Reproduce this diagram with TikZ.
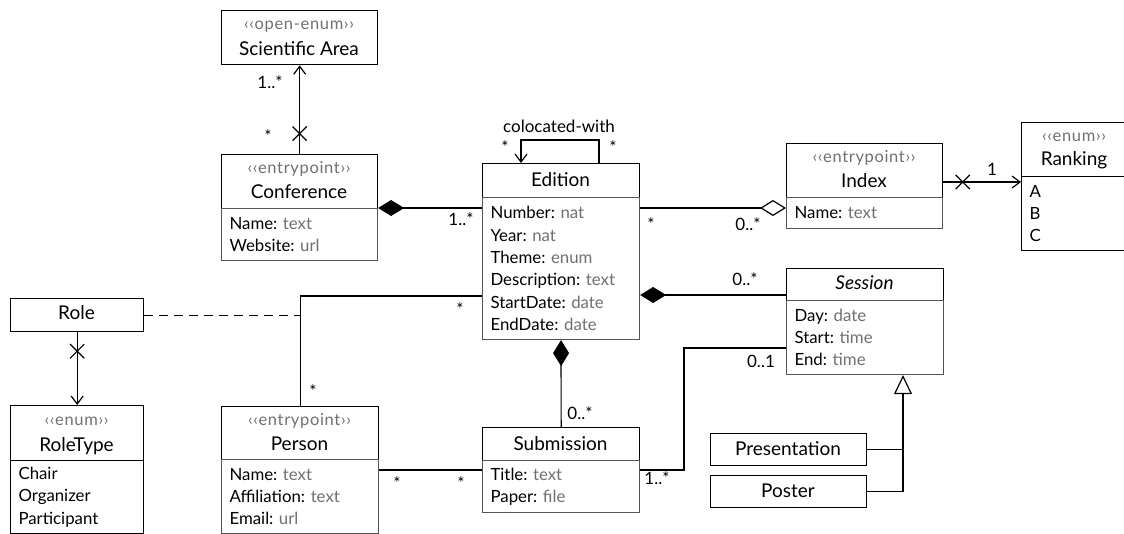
\documentclass[tikz,border=0pt]{standalone}
\usepackage{fontspec}
\setmainfont{Lato}
\newfontfamily\stereofont{Lato}[LetterSpace=4]
\usetikzlibrary{arrows.meta,shapes.misc}
\definecolor{typegray}{HTML}{707070}
\definecolor{boxgray}{HTML}{555555}
\newcommand{\attype}[1]{{\color{typegray}#1}}
\begin{document}
\frenchspacing
\begin{tikzpicture}[x=1pt,y=-1pt,
  hdr/.style={draw=black, line width=1.3pt, inner sep=0pt, anchor=north west},
  attr/.style={draw=boxgray, line width=1.1pt, inner xsep=8pt, inner ysep=0pt, anchor=north west, align=left, font=\fontsize{16.8}{22.3}\selectfont},
  ttl/.style={inner sep=0pt, anchor=base, font=\fontsize{19}{22}\selectfont},
  stereo/.style={inner sep=0pt, anchor=base, text=typegray, font=\stereofont\fontsize{16.5}{18}\selectfont},
  conn/.style={draw=black, line width=1.2pt},
  mult/.style={inner sep=0pt, font=\fontsize{17}{20}\selectfont},
  comp/.style={{Diamond[length=26pt,width=16pt]}-},
  aggr/.style={-{Diamond[open,length=26pt,width=16pt]}},
  nav/.style={-{Straight Barb[length=8pt,width=12pt]}},
  xmark/.style={cross out, draw=black, line width=1.2pt, minimum size=13pt, inner sep=0pt},
  gen/.style={-{Triangle[open,length=19pt,width=18pt]}},
  assocdash/.style={dash pattern=on 9pt off 6pt}
]
\useasboundingbox (0,0) rectangle (1124,534);
\fill[white] (0,0) rectangle (1124,534);
\clip (0,0) rectangle (1124,534);

% Scientific Area
\node[hdr, minimum width=156pt, minimum height=54pt] (sci) at (221,10) {};
\node[stereo] (sciS) at (299,30) {‹‹open-enum››};
\node[ttl] (sciT) at (299,55.5) {Scientific Area};

% Conference
\node[hdr, minimum width=156pt, minimum height=54pt] (conf) at (221,154) {};
\node[stereo] (confS) at (299,173.5) {‹‹entrypoint››};
\node[ttl] (confT) at (299,199) {Conference};
\node[attr, minimum height=52pt, text width=140pt] (confA) at (221,208) {Name: \attype{text}\\Website: \attype{url}};

% Edition
\node[hdr, minimum width=157pt, minimum height=34pt] (ed) at (482,163) {};
\node[ttl] (edT) at (560.5,187) {Edition};
\node[attr, minimum height=142pt, text width=141pt] (edA) at (482,197) {Number: \attype{nat}\\Year: \attype{nat}\\Theme: \attype{enum}\\Description: \attype{text}\\StartDate: \attype{date}\\EndDate: \attype{date}};

% Index
\node[hdr, minimum width=156pt, minimum height=54pt] (idx) at (786,143) {};
\node[stereo] (idxS) at (864,162.5) {‹‹entrypoint››};
\node[ttl] (idxT) at (864,188) {Index};
\node[attr, minimum height=31pt, text width=140pt] (idxA) at (786,197) {Name: \attype{text}};

% Ranking
\node[hdr, minimum width=106pt, minimum height=54pt] (rk) at (1021,122) {};
\node[stereo] (rkS) at (1074,141.5) {‹‹enum››};
\node[ttl] (rkT) at (1074,166) {Ranking};
\node[attr, draw=black, minimum height=74pt, text width=90pt] (rkA) at (1021,176) {A\\B\\C};

% Session
\node[hdr, minimum width=157pt, minimum height=32pt] (ses) at (786,268) {};
\node[ttl, font=\fontsize{19}{22}\selectfont\itshape] (sesT) at (864.5,290) {Session};
\node[attr, minimum height=74pt, text width=141pt] (sesA) at (786,300) {Day: \attype{date}\\Start: \attype{time}\\End: \attype{time}};

% Submission
\node[hdr, minimum width=157pt, minimum height=33pt] (sub) at (482,427) {};
\node[ttl] (subT) at (560.5,450) {Submission};
\node[attr, minimum height=52pt, text width=141pt] (subA) at (482,460) {Title: \attype{text}\\Paper: \attype{file}};

% Person
\node[hdr, minimum width=157pt, minimum height=53pt] (per) at (221,406) {};
\node[stereo] (perS) at (299.5,425) {‹‹entrypoint››};
\node[ttl] (perT) at (299.5,450) {Person};
\node[attr, minimum height=74pt, text width=141pt] (perA) at (221,459) {Name: \attype{text}\\Affiliation: \attype{text}\\Email: \attype{url}};

% RoleType
\node[hdr, minimum width=133pt, minimum height=55pt] (rt) at (10,405) {};
\node[stereo] (rtS) at (76.5,425.5) {‹‹enum››};
\node[ttl] (rtT) at (76.5,451) {RoleType};
\node[attr, draw=black, minimum height=73pt, text width=117pt] (rtA) at (10,460) {Chair\\Organizer\\Participant};

% Role
\node[hdr, minimum width=133pt, minimum height=33pt] (role) at (10,298) {};
\node[ttl] (roleT) at (76.5,320) {Role};

% Presentation, Poster
\node[hdr, minimum width=156pt, minimum height=32pt] (pres) at (710,433) {};
\node[ttl] (presT) at (788,455) {Presentation};
\node[hdr, minimum width=156pt, minimum height=32pt] (post) at (710,475) {};
\node[ttl] (postT) at (788,497) {Poster};

% helper coordinates
\coordinate (cA) at (599,140);
\coordinate (cB) at (521,140);
\coordinate (yIR) at (0,182);
\coordinate (y295) at (0,295);
\coordinate (y296) at (0,296);
\coordinate (y470) at (0,470);
\coordinate (bendSS) at (684,348);
\coordinate (gx) at (903,0);
\coordinate (rj) at (per.north |- role.east);

% connectors
\draw[conn, nav] (conf.north) -- node[xmark, pos=0.23] (x1) {} (sci.south);
\draw[conn, nav] (ed.north -| cA) -- (cA) -- (cB) -- (ed.north -| cB);
\draw[conn, comp] (confA.north east) -- (edA.west |- confA.north east);
\draw[conn, aggr] (edA.east |- confA.north east) -- (idxA.west |- confA.north east);
\draw[conn, nav] (idx.east |- yIR) -- node[xmark, pos=0.25] (x2) {} (rkA.west |- yIR);
\draw[conn, comp] (edA.east |- y295) -- (ses.west |- y295);
\draw[conn, comp] (edA.south) -- (sub.north);
\draw[conn] (subA.east |- y470) -| (bendSS) -- (sesA.west |- bendSS);
\draw[conn] (perA.east |- y470) -- (subA.west |- y470);
\draw[conn] (per.north) |- (edA.west |- y296);
\draw[conn, assocdash] (role.east) -- (rj);
\draw[conn, nav] (role.south) -- node[xmark, pos=0.26] (x3) {} (rt.north);
\draw[conn, gen] (post.east) -| (sesA.south -| gx);
\draw[conn] (pres.east) -- (pres.east -| gx);

% labels
\node[mult] (m1) at (270,82) {1..*};
\node[mult] (m2) at (268,136) {*};
\node[mult] (m3) at (505,147) {*};
\node[mult] (m4) at (613,147) {*};
\node[mult] (colw) at (559,126) {colocated-with};
\node[mult] (m5) at (461,219) {1..*};
\node[mult] (m6) at (651,224) {*};
\node[mult] (m7) at (748,224) {0..*};
\node[mult] (m8) at (992,169) {1};
\node[mult] (m9) at (745,279) {0..*};
\node[mult] (m10) at (460,309) {*};
\node[mult] (m11) at (313,391) {*};
\node[mult] (m12) at (580,413) {0..*};
\node[mult] (m13) at (657,478) {1..*};
\node[mult] (m14) at (761,361) {0..1};
\node[mult] (m15) at (397,483) {*};
\node[mult] (m16) at (461,483) {*};
\end{tikzpicture}
\end{document}
